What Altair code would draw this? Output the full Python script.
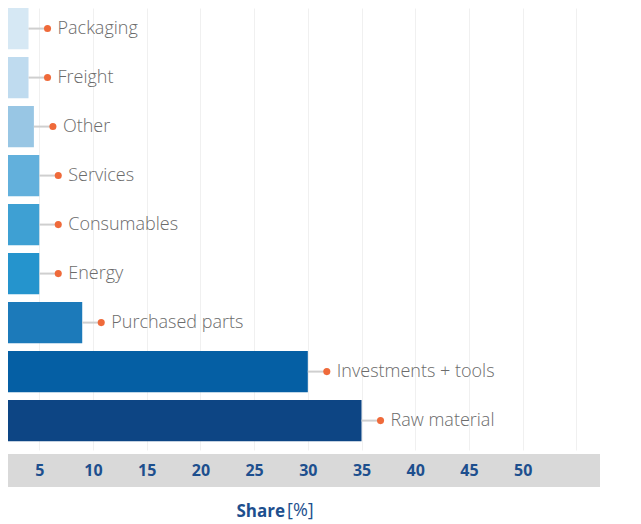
import altair as alt
import pandas as pd

categories = ["Packaging", "Freight", "Other", "Services", "Consumables",
              "Energy", "Purchased parts", "Investments + tools", "Raw material"]
shares = [4, 4, 4.5, 5, 5, 5, 9, 30, 35]
colors = ["#d6e8f4", "#bfdbef", "#98c6e4", "#62b0dc", "#3ea0d3",
          "#2594cd", "#1c7aba", "#055fa4", "#0d4584"]
tick_values = [5, 10, 15, 20, 25, 30, 35, 40, 45, 50, 55]
x_domain = [2.09, 57.2]

df = pd.DataFrame({"category": categories, "share": shares, "color": colors})

FONT = "Open Sans"
BLUE = "#1d4f8e"

x_scale = alt.Scale(domain=x_domain, nice=False, zero=False)
y_scale = alt.Scale(domain=categories, paddingInner=0.16, paddingOuter=0.09, align=0)

grid_axis = alt.Axis(
    orient="bottom", values=tick_values,
    grid=True, gridColor="#f0f0f0", gridWidth=1,
    ticks=False, domain=False, labels=False, title=None, zindex=0,
)

label_axis = alt.Axis(
    orient="bottom", values=tick_values, grid=False,
    ticks=False, tickSize=0, domain=False, offset=20, zindex=1,
    labelFont=FONT, labelFontSize=16, labelFontWeight="bold", labelColor=BLUE,
    labelBaseline="middle", labelPadding=0, labelOverlap=False,
    labelExpr="datum.value == 55 ? '' : datum.label",
    title="Share", titleFont=FONT, titleFontSize=17, titleFontWeight="bold",
    titleColor=BLUE, titleAlign="left", titleBaseline="middle",
    titleX=228, titleY=41,
)

y_enc = alt.Y("category:N", scale=y_scale, axis=None, sort=categories)

band = alt.Chart(pd.DataFrame({"lo": [x_domain[0]], "hi": [x_domain[1]]})).mark_rect(
    color="#d9d9d9"
).encode(
    x=alt.X("lo:Q", scale=x_scale, axis=label_axis),
    x2="hi:Q",
    y=alt.value(446), y2=alt.value(479),
)

base = alt.Chart(df)

bars = base.mark_bar(clip=True).encode(
    x=alt.X("share:Q", scale=x_scale, axis=grid_axis),
    y=y_enc,
    color=alt.Color("color:N", scale=None),
)

leaders = base.mark_rule(color="#cfcfcf", strokeWidth=2, x2Offset=19).encode(
    x=alt.X("share:Q", scale=x_scale, axis=grid_axis), x2="share:Q", y=y_enc,
)

dots = base.mark_circle(color="#ef6a3a", size=50, opacity=1, xOffset=19).encode(
    x=alt.X("share:Q", scale=x_scale, axis=grid_axis), y=y_enc,
)

labels = base.mark_text(align="left", baseline="middle", dx=29, font=FONT,
                        fontSize=18, fontWeight=300, color="#6b6b6b").encode(
    x=alt.X("share:Q", scale=x_scale, axis=grid_axis), y=y_enc, text="category:N",
)

unit = alt.Chart(pd.DataFrame({"t": ["[%]"]})).mark_text(
    align="left", baseline="middle", font=FONT, fontSize=18, color=BLUE,
).encode(text="t:N", x=alt.value(279), y=alt.value(503))

marks = alt.layer(bars, leaders, dots, labels, unit)

chart = alt.layer(band, marks).resolve_axis(x="independent").properties(
    width=592, height=442, background="white", padding=0,
).configure_view(stroke=None)

chart.save("out.html", embed_options={"renderer": "svg", "actions": False})
